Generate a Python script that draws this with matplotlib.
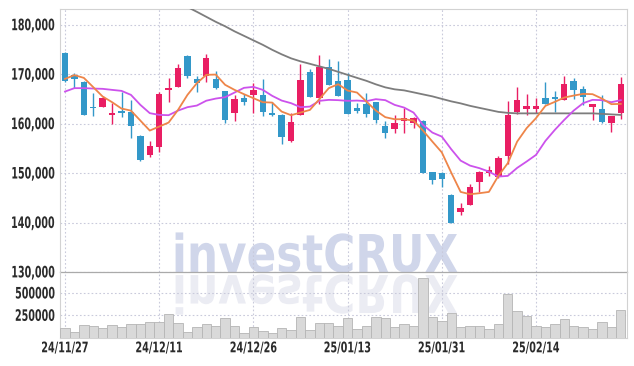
import numpy as np
import matplotlib
matplotlib.use("Agg")
import matplotlib.pyplot as plt
from matplotlib.patheffects import AbstractPathEffect
from matplotlib.transforms import Affine2D
from matplotlib.ticker import FuncFormatter

dates = ["24/11/27", "24/11/28", "24/11/29", "24/12/02", "24/12/03", "24/12/04", "24/12/05",
         "24/12/06", "24/12/09", "24/12/10", "24/12/11", "24/12/12", "24/12/13", "24/12/16",
         "24/12/17", "24/12/18", "24/12/19", "24/12/20", "24/12/23", "24/12/24", "24/12/26",
         "24/12/27", "24/12/30", "25/01/02", "25/01/03", "25/01/06", "25/01/07", "25/01/08",
         "25/01/09", "25/01/10", "25/01/13", "25/01/14", "25/01/15", "25/01/16", "25/01/17",
         "25/01/20", "25/01/21", "25/01/22", "25/01/23", "25/01/24", "25/01/31", "25/02/03",
         "25/02/04", "25/02/05", "25/02/06", "25/02/07", "25/02/10", "25/02/11", "25/02/12",
         "25/02/13", "25/02/14", "25/02/17", "25/02/18", "25/02/19", "25/02/20", "25/02/21",
         "25/02/24", "25/02/25", "25/02/26", "25/02/27"]

opens = [174400, 169800, 168500, 163400, 163450, 161850, 162550, 162400, 157550, 153700,
         155350, 166800, 167500, 173750, 169000, 169700, 169000, 166650, 162150, 165200,
         165900, 165850, 162250, 161800, 156400, 161850, 170500, 165100, 171450, 168600,
         168850, 163200, 163950, 164400, 159550, 159000, 160450, 160100, 160550, 150200,
         150000, 145550, 142200, 143550, 148150, 150050, 149250, 153500, 162400, 163050,
         163000, 165200, 165500, 164800, 168650, 167050, 163450, 162950, 160100, 162150]
highs = [174500, 170200, 168700, 166200, 165600, 164150, 166450, 164700, 157700, 156450,
         166500, 169150, 172000, 173800, 169550, 174000, 170650, 166700, 165850, 165950,
         168200, 169000, 164400, 161900, 162250, 172100, 171050, 173850, 173050, 172650,
         170200, 164150, 166300, 164450, 160450, 161700, 163250, 161450, 160750, 150300,
         150300, 145850, 144050, 147800, 150500, 151450, 153500, 164600, 167400, 165950,
         165150, 168450, 166650, 169550, 169200, 167700, 164000, 165850, 161600, 169350]
lows = [168500, 167300, 161700, 161600, 163400, 159950, 161450, 157150, 152450, 153200,
        154350, 164400, 167400, 169250, 166500, 168450, 167100, 160100, 160450, 163750,
        162250, 161600, 161500, 155900, 156300, 161750, 165300, 163950, 167850, 165550,
        162000, 162150, 161450, 160100, 157050, 158200, 158200, 159100, 150000, 147800,
        147250, 139900, 141550, 143500, 146250, 149400, 149050, 151850, 162000, 161700,
        162150, 163900, 162450, 164750, 164950, 163750, 160650, 160200, 158300, 160900]
closes = [168700, 169000, 161800, 163100, 165100, 162150, 162250, 159550, 152700, 155500,
          166050, 167300, 171300, 169550, 168200, 173250, 167200, 160750, 164950, 164400,
          166850, 162450, 161850, 157400, 160350, 168850, 165350, 171550, 167900, 165650,
          162050, 162600, 162050, 160750, 158200, 160100, 161100, 161100, 150100, 148650,
          148750, 140000, 142900, 147200, 150200, 150600, 153000, 161700, 164750, 163650,
          163650, 164000, 164900, 168050, 166900, 165500, 164000, 160250, 161550, 168050]

ma_short = [169070, 169820, 169270, 167390, 165490, 164350, 163060, 162650, 160630, 158610,
            159420, 160230, 162790, 165830, 168200, 169880, 169940, 167860, 166840, 165970,
            165160, 164350, 164270, 162450, 161720, 162250, 162790, 164960, 167190, 167990,
            166700, 166300, 164480, 162650, 161320, 160900, 160900, 160630, 158610, 156380,
            154200, 150110, 146200, 145730, 145940, 146200, 149440, 152000, 156380, 159090,
            161120, 163610, 164420, 165290, 165690, 166030, 165970, 165080, 163950, 164010]
ma_mid = [166500, 167190, 167190, 167110, 167050, 166840, 166640, 165830, 163810, 162130,
          161780, 161720, 162650, 163340, 163670, 164650, 165080, 165360, 166300, 167250,
          167450, 166840, 165630, 164680, 164150, 163340, 163460, 164620, 164820, 164760,
          164620, 164680, 164560, 164960, 164760, 163800, 163260, 162250, 159760, 158200,
          157390, 154840, 152530, 151520, 151000, 150310, 149300, 149440, 151060, 152340,
          153690, 156520, 158750, 160770, 162650, 164150, 164820, 164760, 164350, 164760]
ma_long = [np.nan] * 12 + [
          184400, 183600, 182630, 181620, 180610, 179700, 178680, 177770,
          176860, 175950, 174940, 174030, 173220, 172610, 172110, 171600, 171090, 170490,
          169880, 169270, 168670, 167960, 167350, 166950, 166740, 166340, 165930, 165530,
          165020, 164520, 164110, 163610, 163200, 162800, 162390, 162190, 162090, 162090,
          162090, 162090, 162090, 162090, 162090, 162090, 162090, 161990, 161880, 161780]
volumes = [101000, 56000, 138000, 127000, 101000, 138000, 119000, 149000, 149000, 172000,
           172000, 261000, 164000, 59000, 119000, 149000, 127000, 213000, 134000, 45000,
           112000, 74000, 45000, 101000, 82000, 224000, 82000, 157000, 157000, 134000,
           213000, 90000, 123000, 224000, 213000, 112000, 146000, 134000, 660000, 224000,
           183000, 269000, 112000, 123000, 134000, 90000, 146000, 482000, 291000, 239000,
           123000, 112000, 149000, 202000, 123000, 112000, 90000, 168000, 112000, 303000]

UP = "#e91e63"
DOWN = "#3398c9"
GRID = "#c9cadb"
TXT = "#2b2b2b"


class Warp(AbstractPathEffect):
    """reshape text glyphs: narrow/tall font look, optional mirror below the baseline"""

    def __init__(self, sx=1.0, sy=1.0, anchor="center", flip=False, gap=0.0):
        super().__init__()
        self.sx, self.sy, self.anchor, self.flip, self.gap = sx, sy, anchor, flip, gap

    def draw_path(self, renderer, gc, tpath, affine, rgbFace=None):
        bb = tpath.get_extents(affine)
        ax_ = {"left": bb.x0, "center": (bb.x0 + bb.x1) / 2, "right": bb.x1}[self.anchor]
        if self.flip:
            ay = affine.transform((0, 0))[1]
            sy = -self.sy
        else:
            ay = (bb.y0 + bb.y1) / 2
            sy = self.sy
        g = renderer.points_to_pixels(self.gap)
        t = affine + Affine2D().translate(-ax_, -ay).scale(self.sx, sy).translate(ax_, ay - g)
        renderer.draw_path(gc, tpath, t, rgbFace)


fig = plt.figure(figsize=(6.34, 3.66), dpi=100)
fig.patch.set_facecolor("white")
W, H = 634, 366
ax = fig.add_axes([60 / W, 1 - 272 / H, 567 / W, 263 / H])
axv = fig.add_axes([60 / W, 1 - 337.5 / H, 567 / W, 65.5 / H], sharex=ax)
for a in (ax, axv):
    a.set_facecolor("none")

x = np.arange(len(dates))
o = np.array(opens); c = np.array(closes)
colors = [UP if cc >= oo else DOWN for oo, cc in zip(o, c)]

# wicks and bodies
ax.vlines(x, lows, highs, colors=colors, lw=1.0, zorder=3)
body_h = np.maximum(np.abs(c - o), 350)
ax.bar(x, body_h, bottom=np.minimum(o, c), width=0.68, color=colors, lw=0, zorder=4)

ax.plot(x, ma_long, color="#7d7d7d", lw=1.3, zorder=5)
ax.plot(x, ma_mid, color="#cc52ec", lw=1.3, zorder=5)
ax.plot(x, ma_short, color="#ee8549", lw=1.3, zorder=6)

ax.set_xlim(-0.53, 59.66)
ax.set_ylim(130000, 183200)
ax.set_yticks(np.arange(130000, 180001, 10000))
ax.yaxis.set_major_formatter(FuncFormatter(lambda v, p: f"{v:,.0f}"))
ax.grid(True, color=GRID, ls=(0, (1.5, 2)), lw=0.8)
ax.tick_params(axis="x", labelbottom=False, length=0)
ax.tick_params(axis="y", length=0, pad=4, colors=TXT, labelsize=8)

axv.bar(x, volumes, width=1.0, color="#d9d9d9", edgecolor="#b5b5b5", lw=0.6, zorder=3)
axv.set_ylim(0, 732000)
axv.set_yticks([250000, 500000])
axv.set_yticklabels(["250000", "500000"])
axv.set_xticks(x[::10])
axv.set_xticklabels(dates[::10])
axv.grid(True, color=GRID, ls=(0, (1.5, 2)), lw=0.8)
axv.tick_params(length=0, colors=TXT)
axv.tick_params(axis="y", pad=4, labelsize=8)
axv.tick_params(axis="x", pad=2, labelsize=10.5)

for lab in ax.get_yticklabels() + axv.get_yticklabels():
    lab.set_fontweight("bold")
    lab.set_path_effects([Warp(0.86, 1.42, "right")])
for lab in axv.get_xticklabels():
    lab.set_fontweight("bold")
    lab.set_path_effects([Warp(0.66, 1.0, "center")])

for a in (ax, axv):
    for s in ("left", "right", "top"):
        a.spines[s].set_color("#d2d2d2")
        a.spines[s].set_linewidth(0.8)
ax.spines["bottom"].set_color("#aaaaaa")
ax.spines["bottom"].set_linewidth(0.9)
axv.spines["top"].set_visible(False)
axv.spines["bottom"].set_color("#d2d2d2")

# watermark with its reflection
wm = dict(ha="center", va="baseline", fontsize=37.5, fontweight="bold")
fig.text(315 / W, 1 - 272 / H, "investCRUX", color="#d0d6ea", zorder=-1,
         path_effects=[Warp(0.84, 1.0, "center")], **wm)
fig.text(315 / W, 1 - 272 / H, "investCRUX", color="#ebecf3", zorder=-2,
         path_effects=[Warp(0.84, 1.0, "center", flip=True, gap=2.2)], **wm)

fig.savefig("out.png", dpi=100)
